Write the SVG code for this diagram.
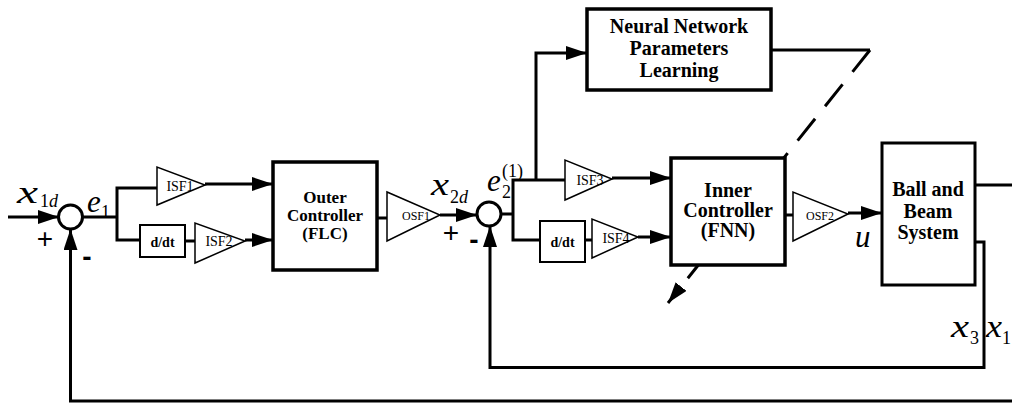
<svg xmlns="http://www.w3.org/2000/svg" width="1012" height="403" viewBox="0 0 1012 403">
  <style>
    .wire { fill: none; stroke: #000; stroke-width: 3; stroke-linejoin: miter; }
    .dash { fill: none; stroke: #000; stroke-width: 3; stroke-dasharray: 28 16; }
    .block { fill: #fff; stroke: #000; stroke-width: 3.5; }
    .small { fill: #fff; stroke: #000; stroke-width: 2; }
    .gain { fill: #fff; stroke: #000; stroke-width: 1.5; stroke-linejoin: miter; }
    .sum { fill: #fff; stroke: #000; stroke-width: 3; }
    .lbl { font-family: "Liberation Serif", "Times New Roman", serif; font-weight: bold; font-size: 20px; text-anchor: middle; fill: #000; }
    .lbl17 { font-size: 17px; }
    .glbl { font-family: "Liberation Serif", "Times New Roman", serif; font-size: 14px; text-anchor: middle; fill: #000; }
    .olbl { font-size: 12px; }
    .ddt { font-family: "Liberation Serif", "Times New Roman", serif; font-weight: bold; font-size: 14px; text-anchor: middle; fill: #000; }
    .math { font-family: "Liberation Serif", "Times New Roman", serif; font-style: italic; font-size: 31px; fill: #000; }
    .sub { font-family: "Liberation Serif", "Times New Roman", serif; font-size: 18px; fill: #000; }
    .sign { font-family: "Liberation Sans", Arial, sans-serif; font-size: 28px; text-anchor: middle; fill: #000; }
    .minus { font-family: "Liberation Sans", Arial, sans-serif; font-weight: bold; font-size: 28px; text-anchor: middle; fill: #000; }
  </style>
  <defs>
    <marker id="arrow" markerUnits="userSpaceOnUse" markerWidth="22" markerHeight="14" refX="21" refY="7" orient="auto">
      <path d="M0,0 L21,7 L0,14 Z" fill="#000"/>
    </marker>
  </defs>

  <rect width="1012" height="403" fill="#fff"/>

  <!-- connectors -->
  <g id="connectors">
    <path class="wire" d="M8,217 H59" marker-end="url(#arrow)"/>
    <path class="wire" d="M82,217 H117 M117,186.5 V241.5 M117,188 H157 M117,240 H140"/>
    <path class="wire" d="M205,184 H273" marker-end="url(#arrow)"/>
    <path class="wire" d="M185,241 H195"/>
    <path class="wire" d="M245,240 H273" marker-end="url(#arrow)"/>
    <path class="wire" d="M377,218 H387"/>
    <path class="wire" d="M440,215 H477" marker-end="url(#arrow)"/>
    <path class="wire" d="M501,214 H513 M513,178.5 V241.5 M513,180 H565 M513,240 H540"/>
    <path class="wire" d="M536,180 V53 H587" marker-end="url(#arrow)"/>
    <path class="wire" d="M612,178 H671" marker-end="url(#arrow)"/>
    <path class="wire" d="M585,240 H592"/>
    <path class="wire" d="M638,237 H671" marker-end="url(#arrow)"/>
    <path class="wire" d="M785,215 H793"/>
    <path class="wire" d="M848,213 H882" marker-end="url(#arrow)"/>
    <path class="wire" d="M975,185 H1012"/>
    <path class="wire" d="M975,242 H984 V367.5 H490 V226" marker-end="url(#arrow)"/>
    <path class="wire" d="M1012,401 H70.5 V229" marker-end="url(#arrow)"/>
    <path class="wire" d="M771,50 H870"/>
    <path class="dash" d="M870,50 L668,303" marker-end="url(#arrow)"/>
  </g>

  <!-- summing junctions -->
  <g id="sum1">
    <circle class="sum" cx="70.5" cy="217" r="12"/>
    <text class="sign" x="45" y="248">+</text>
    <text class="minus" x="87" y="266">-</text>
  </g>
  <g id="sum2">
    <circle class="sum" cx="489" cy="214" r="12"/>
    <text class="sign" x="451" y="242">+</text>
    <text class="minus" x="474" y="249">-</text>
  </g>

  <!-- outer loop -->
  <g id="isf1">
    <polygon class="gain" points="157,167 157,205 205,185"/>
    <text class="glbl" x="180" y="191">ISF1</text>
  </g>
  <g id="ddt1">
    <rect class="small" x="140" y="225" width="45" height="32"/>
    <text class="ddt" x="162.5" y="247">d/dt</text>
  </g>
  <g id="isf2">
    <polygon class="gain" points="195,223 195,263 245,241"/>
    <text class="glbl" x="219" y="246">ISF2</text>
  </g>
  <g id="flc">
    <rect class="block" x="273" y="162" width="104" height="108"/>
    <text class="lbl lbl17" x="325" y="203">Outer</text>
    <text class="lbl lbl17" x="325" y="221">Controller</text>
    <text class="lbl lbl17" x="325" y="239">(FLC)</text>
  </g>
  <g id="osf1">
    <polygon class="gain" points="387,192 387,241 440,215"/>
    <text class="glbl olbl" x="416" y="220">OSF1</text>
  </g>

  <!-- inner loop -->
  <g id="nn">
    <rect class="block" x="587" y="9" width="184" height="81"/>
    <text class="lbl" x="679" y="33">Neural Network</text>
    <text class="lbl" x="679" y="55">Parameters</text>
    <text class="lbl" x="679" y="77">Learning</text>
  </g>
  <g id="isf3">
    <polygon class="gain" points="565,160 565,200 612,179"/>
    <text class="glbl" x="590" y="185">ISF3</text>
  </g>
  <g id="ddt2">
    <rect class="small" x="540" y="221" width="45" height="41"/>
    <text class="ddt" x="562.5" y="247">d/dt</text>
  </g>
  <g id="isf4">
    <polygon class="gain" points="592,219 592,258 638,237"/>
    <text class="glbl" x="616" y="243">ISF4</text>
  </g>
  <g id="fnn">
    <rect class="block" x="671" y="158" width="114" height="107"/>
    <text class="lbl" x="728" y="197">Inner</text>
    <text class="lbl" x="728" y="217">Controller</text>
    <text class="lbl" x="728" y="237">(FNN)</text>
  </g>
  <g id="osf2">
    <polygon class="gain" points="793,192 793,241 848,214"/>
    <text class="glbl olbl" x="820" y="220">OSF2</text>
  </g>
  <g id="plant">
    <rect class="block" x="882" y="143" width="93" height="142" style="stroke-width:3"/>
    <text class="lbl" x="928" y="196">Ball and</text>
    <text class="lbl" x="928" y="218">Beam</text>
    <text class="lbl" x="928" y="239">System</text>
  </g>

  <!-- signal labels -->
  <g id="signals">
    <text class="math" x="17" y="203" textLength="21" lengthAdjust="spacingAndGlyphs">x</text>
    <text class="sub" x="40" y="207">1<tspan font-style="italic">d</tspan></text>
    <text class="math" x="87" y="212">e</text>
    <text class="sub" x="101" y="218">1</text>
    <text class="math" x="431" y="195" textLength="18" lengthAdjust="spacingAndGlyphs">x</text>
    <text class="sub" x="450" y="203">2<tspan font-style="italic">d</tspan></text>
    <text class="math" x="487" y="191">e</text>
    <text class="sub" x="502" y="198" font-size="14">2</text>
    <text class="sub" x="502" y="177" font-size="13">(1)</text>
    <text class="math" x="855" y="247">u</text>
    <text class="math" x="951" y="337" textLength="18" lengthAdjust="spacingAndGlyphs">x</text>
    <text class="sub" x="970" y="344">3</text>
    <text class="math" x="986" y="337" textLength="16" lengthAdjust="spacingAndGlyphs">x</text>
    <text class="sub" x="1002" y="344" font-size="16">1</text>
  </g>
</svg>
